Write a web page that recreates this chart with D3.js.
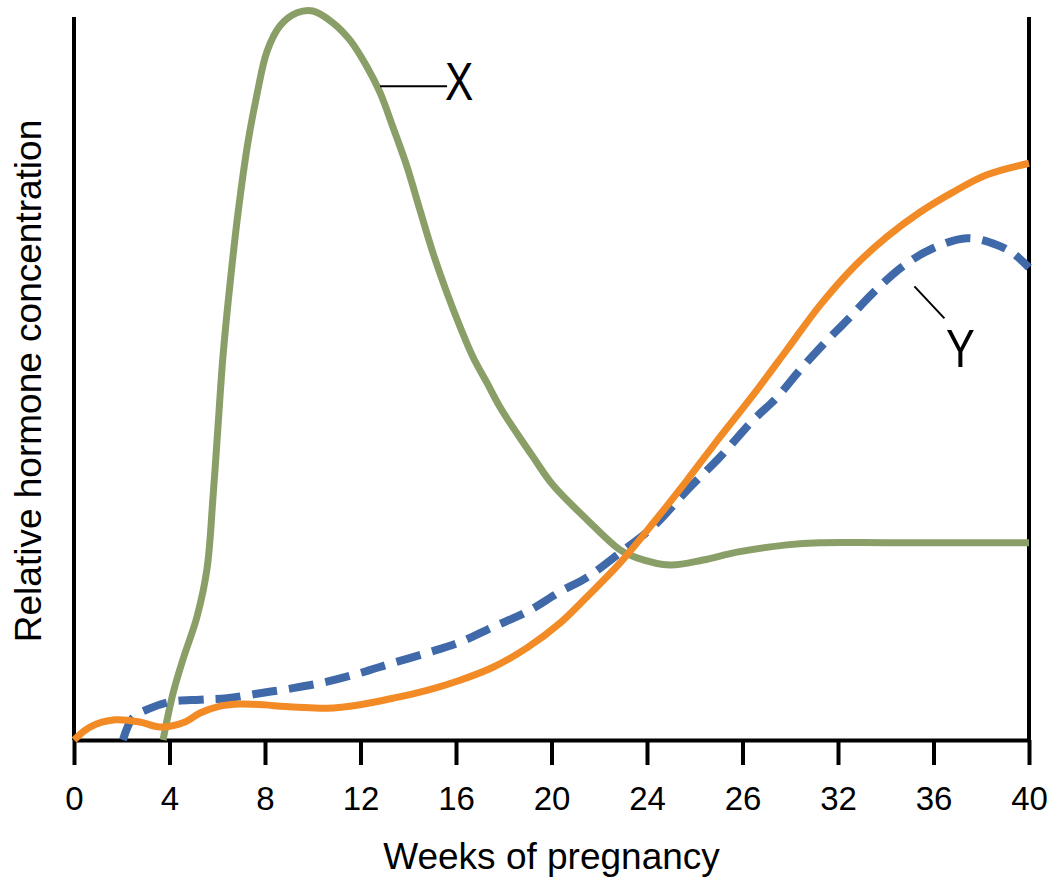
<!DOCTYPE html>
<html>
<head>
<meta charset="utf-8">
<script src="https://cdn.jsdelivr.net/npm/d3@7"></script>
<style>
  html, body { margin: 0; padding: 0; background: #fff; }
  svg { display: block; font-family: "Liberation Sans", Arial, Helvetica, sans-serif; }
</style>
</head>
<body>
<svg id="chart" width="1059" height="886"></svg>
<script>
// ---- data (weeks, relative concentration 0-100) ----
const tickWeeks  = [0, 4, 8, 12, 16, 20, 24, 28, 32, 36, 40];
const tickLabels = ["0", "4", "8", "12", "16", "20", "24", "26", "32", "36", "40"];

const xWeeks = [3.73, 4.15, 4.57, 5.15, 5.57, 5.82, 6.03, 6.24, 6.53, 6.87, 7.29, 7.66, 8.08, 8.63, 9.34, 10.01, 10.85, 11.56, 12.27, 12.82, 13.36, 13.95, 14.49, 15.04, 15.62, 16.17, 16.71, 17.3, 17.84, 18.55, 19.23, 20.06, 21.49, 22.87, 23.58, 24.96, 26.35, 27.77, 29.86, 31.25, 34, 37, 40];
const xValues = [0, 6.5, 11.25, 17.1, 23.75, 33.6, 43.5, 53.3, 63.2, 73.2, 83.1, 89.6, 95.6, 99.2, 101, 101.25, 99.6, 97.2, 93.5, 89.9, 85.1, 79.6, 73.6, 67.6, 62.1, 57.4, 53.2, 49.6, 46.25, 42.6, 39.3, 35.4, 30.6, 26.4, 25.3, 24.3, 25, 26.1, 27.1, 27.4, 27.4, 27.4, 27.4];

const orangeWeeks = [0, 0.67, 1.72, 2.76, 3.6, 4.65, 5.28, 6.12, 6.95, 9.17, 10.6, 11.98, 13.36, 14.79, 16.17, 17.55, 18.97, 20.36, 21.49, 22.87, 24.25, 25.68, 27.06, 28.44, 29.86, 31.25, 32.63, 34.05, 35.43, 36.82, 38.24, 40];
const orangeValues = [0, 1.8, 2.8, 2.5, 1.8, 2.5, 3.75, 4.7, 5.0, 4.6, 4.4, 4.9, 5.8, 6.9, 8.3, 10.1, 12.8, 16.25, 19.9, 24.6, 30.1, 36.1, 42.1, 47.9, 54.2, 60.4, 65.6, 69.9, 73.3, 76.1, 78.5, 80.1];

const yWeeks = [2.05, 2.47, 3.18, 4.02, 5.28, 6.41, 7.79, 9.17, 10.6, 11.98, 13.36, 14.79, 16.17, 17.55, 18.97, 20.36, 21.49, 22.87, 24.25, 25.68, 27.06, 28.44, 29.45, 30.41, 31.37, 32.38, 33.47, 34.72, 35.98, 37.4, 38.66, 39.33, 40];
const yValues = [0, 3.1, 4.4, 5.3, 5.6, 5.8, 6.5, 7.2, 8.1, 9.3, 10.7, 12.1, 13.6, 15.7, 17.8, 20.6, 22.6, 26.0, 29.6, 34.7, 39.3, 44.4, 47.6, 51.4, 54.9, 58.3, 62.1, 65.8, 68.3, 69.7, 68.75, 67.6, 65.6];

const labelX = { text: "X", week: 12.82, value: 90.8 };
const labelY = { text: "Y", week: 35.2, value: 63 };

// ---- scales ----
const svg = d3.select("#chart");
const x = d3.scaleLinear().domain([0, 40]).range([74, 1029]);
const y = d3.scaleLinear().domain([0, 100]).range([740, 20]);

const line = d3.line().x(d => x(d[0])).y(d => y(d[1])).curve(d3.curveCatmullRom.alpha(0.5));
const zip = (a, b) => a.map((v, i) => [v, b[i]]);

// ---- frame ----
const topY = y(100.4);
svg.append("line").attr("x1", x(0)).attr("x2", x(0)).attr("y1", topY).attr("y2", y(0))
  .attr("stroke", "#000").attr("stroke-width", 4);
svg.append("line").attr("x1", x(40)).attr("x2", x(40)).attr("y1", topY).attr("y2", y(0))
  .attr("stroke", "#000").attr("stroke-width", 4);

const axis = d3.axisBottom(x).tickValues(tickWeeks)
  .tickFormat((d, i) => tickLabels[i]).tickSize(25).tickSizeOuter(0).tickPadding(22);
const gx = svg.append("g").attr("transform", `translate(0,${y(0)})`).call(axis);
gx.select(".domain").attr("stroke", "#000").attr("stroke-width", 4);
gx.selectAll(".tick line").attr("stroke", "#000").attr("stroke-width", 4);
gx.selectAll(".tick text").attr("fill", "#000").attr("font-size", 33)
  .attr("font-family", "'Liberation Sans', Arial, Helvetica, sans-serif");

// ---- curves ----
svg.append("path").datum(zip(xWeeks, xValues)).attr("d", line)
  .attr("fill", "none").attr("stroke", "#8A9F68").attr("stroke-width", 7);
svg.append("path").datum(zip(yWeeks, yValues)).attr("d", line)
  .attr("fill", "none").attr("stroke", "#3F69A9").attr("stroke-width", 8)
  .attr("stroke-dasharray", "25,12");
svg.append("path").datum(zip(orangeWeeks, orangeValues)).attr("d", line)
  .attr("fill", "none").attr("stroke", "#F28A25").attr("stroke-width", 7);

// ---- callouts ----
svg.append("line")
  .attr("x1", x(labelX.week)).attr("y1", y(labelX.value))
  .attr("x2", x(labelX.week) + 67).attr("y2", y(labelX.value))
  .attr("stroke", "#000").attr("stroke-width", 2);
svg.append("text")
  .attr("transform", `translate(${x(labelX.week) + 79},${y(labelX.value) + 14}) scale(0.8,1)`)
  .attr("text-anchor", "middle").attr("font-size", 53).attr("fill", "#000").text(labelX.text);

svg.append("line")
  .attr("x1", x(labelY.week)).attr("y1", y(labelY.value))
  .attr("x2", x(labelY.week) + 30).attr("y2", y(labelY.value) + 32)
  .attr("stroke", "#000").attr("stroke-width", 2);
svg.append("text")
  .attr("transform", `translate(${x(labelY.week) + 46},${y(labelY.value) + 81}) scale(0.8,1)`)
  .attr("text-anchor", "middle").attr("font-size", 54).attr("fill", "#000").text(labelY.text);

// ---- axis titles ----
svg.append("text")
  .attr("x", (x(0) + x(40)) / 2).attr("y", 869)
  .attr("text-anchor", "middle").attr("font-size", 37).attr("fill", "#000")
  .text("Weeks of pregnancy");
svg.append("text")
  .attr("transform", `translate(41,381) rotate(-90)`)
  .attr("text-anchor", "middle").attr("font-size", 37).attr("fill", "#000")
  .text("Relative hormone concentration");
</script>
</body>
</html>
